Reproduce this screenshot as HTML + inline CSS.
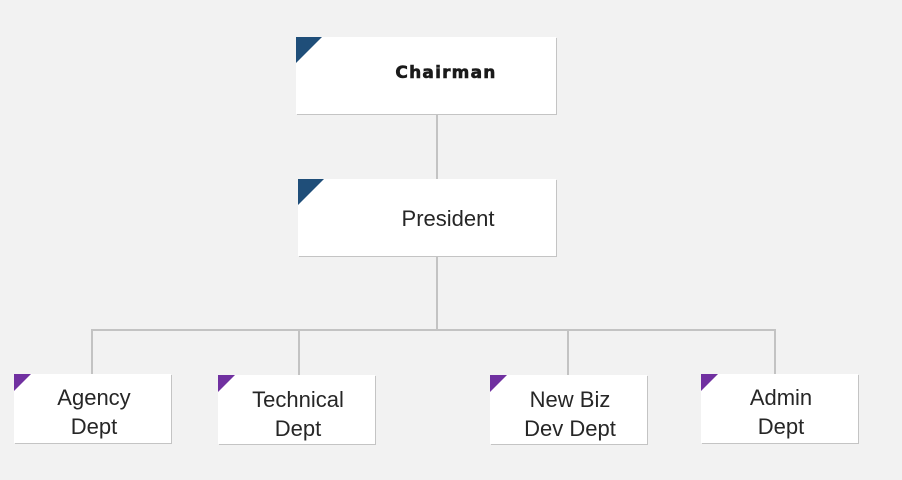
<!DOCTYPE html>
<html><head><meta charset="utf-8"><style>
html,body{margin:0;padding:0;width:902px;height:480px;background:#f2f2f2;overflow:hidden;position:relative;font-family:"Liberation Sans","DejaVu Sans",sans-serif;}
.b{position:absolute;background:#fff;box-shadow:1px 1px 0 #c4c4c4;}
.t{position:absolute;width:0;height:0;left:0;top:0;}
.l{position:absolute;background:#c3c3c3;}
.x{position:absolute;color:#262626;font-size:22px;line-height:29px;text-align:center;white-space:nowrap;}
</style></head><body>
<div class="l" style="left:436px;top:114px;width:2px;height:65px"></div>
<div class="l" style="left:436px;top:256px;width:2px;height:75px"></div>
<div class="l" style="left:91px;top:329px;width:685px;height:2px"></div>
<div class="l" style="left:91px;top:329px;width:2px;height:45px"></div>
<div class="l" style="left:298px;top:329px;width:2px;height:46px"></div>
<div class="l" style="left:567px;top:329px;width:2px;height:46px"></div>
<div class="l" style="left:774px;top:329px;width:2px;height:45px"></div>

<div class="b" style="left:296px;top:37px;width:260px;height:77px"><div class="t" style="border-top:26px solid #1f4e79;border-right:26px solid transparent"></div></div>
<div class="x" style="left:346px;top:59px;width:200px;font-weight:900;font-size:17px;letter-spacing:1.2px;color:#1a1a1a;font-family:'DejaVu Sans',sans-serif;-webkit-text-stroke:0.6px #1a1a1a">Chairman</div>

<div class="b" style="left:298px;top:179px;width:258px;height:77px"><div class="t" style="border-top:26px solid #1f4e79;border-right:26px solid transparent"></div></div>
<div class="x" style="left:348px;top:204px;width:200px">President</div>

<div class="b" style="left:14px;top:374px;width:157px;height:69px"><div class="t" style="border-top:17px solid #7030a0;border-right:17px solid transparent"></div></div>
<div class="x" style="left:14px;top:383px;width:160px">Agency<br>Dept</div>

<div class="b" style="left:218px;top:375px;width:157px;height:69px"><div class="t" style="border-top:17px solid #7030a0;border-right:17px solid transparent"></div></div>
<div class="x" style="left:218px;top:385px;width:160px">Technical<br>Dept</div>

<div class="b" style="left:490px;top:375px;width:157px;height:69px"><div class="t" style="border-top:17px solid #7030a0;border-right:17px solid transparent"></div></div>
<div class="x" style="left:490px;top:385px;width:160px">New Biz<br>Dev Dept</div>

<div class="b" style="left:701px;top:374px;width:157px;height:69px"><div class="t" style="border-top:17px solid #7030a0;border-right:17px solid transparent"></div></div>
<div class="x" style="left:701px;top:383px;width:160px">Admin<br>Dept</div>
</body></html>
